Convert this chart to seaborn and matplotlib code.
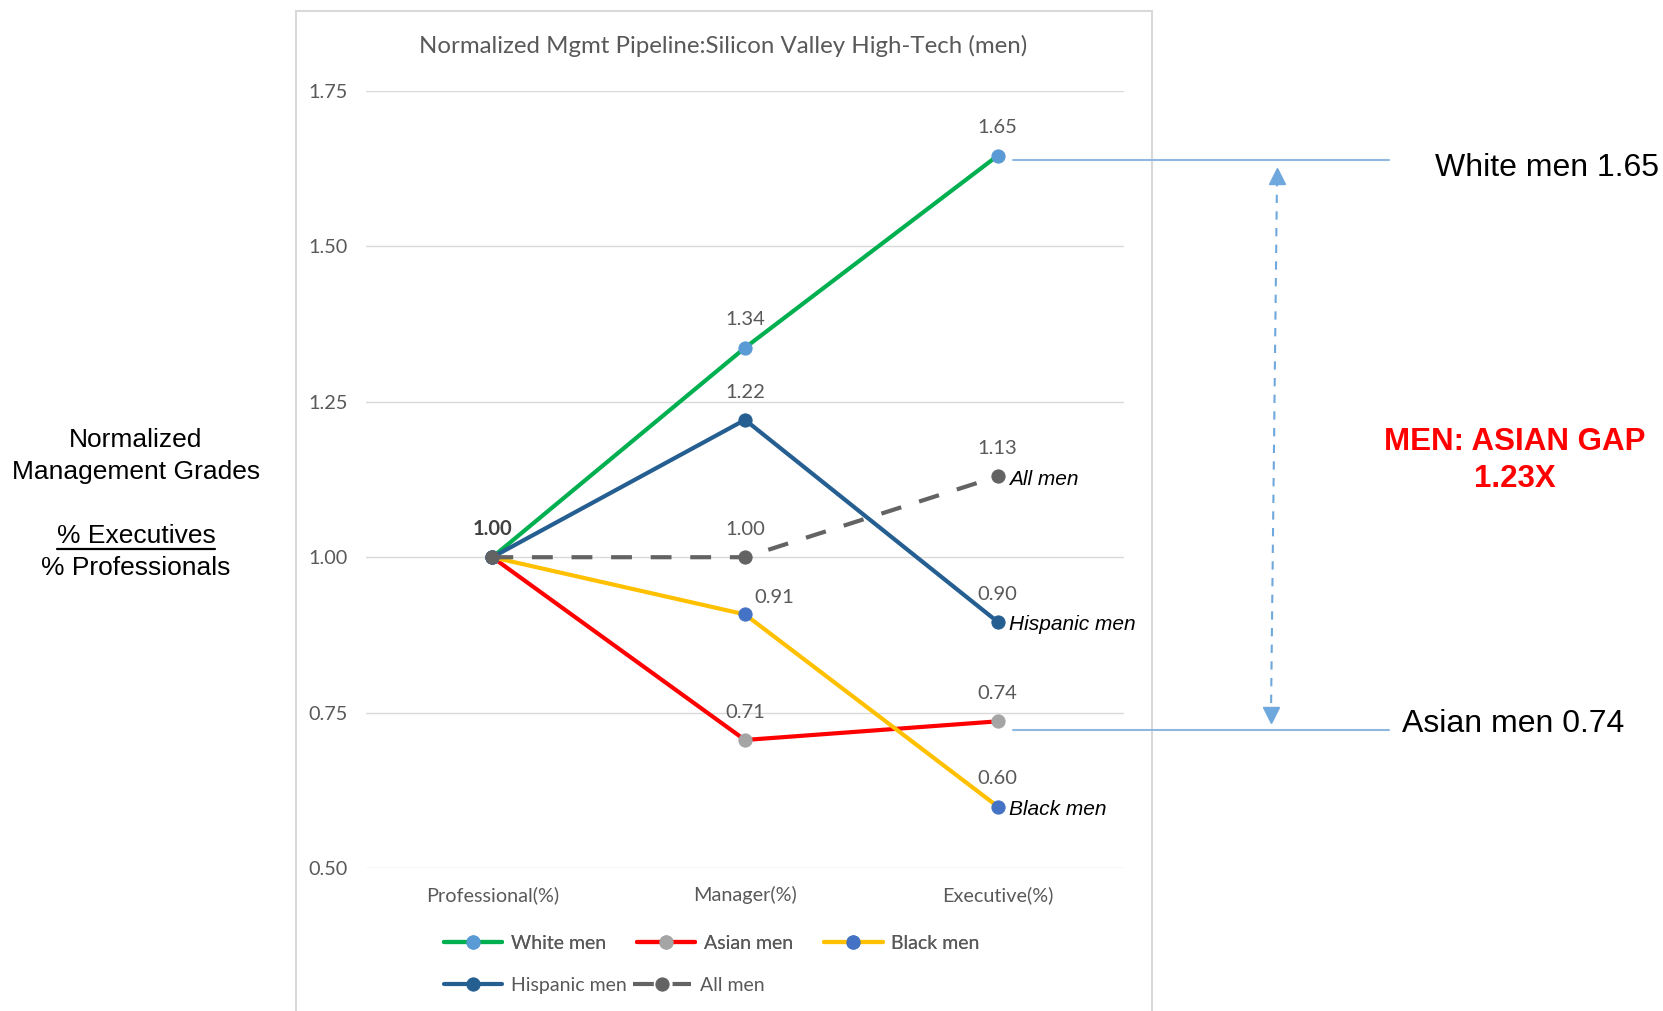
import pandas as pd
import seaborn as sns
import matplotlib.pyplot as plt
from matplotlib.lines import Line2D
from matplotlib.patches import Rectangle

# data
stages = ['Professional(%)', 'Manager(%)', 'Executive(%)']
white_men = [1.00, 1.337, 1.646]
asian_men = [1.00, 0.706, 0.736]
black_men = [1.00, 0.908, 0.599]
hispanic_men = [1.00, 1.221, 0.896]
all_men = [1.00, 1.00, 1.13]
y_ticks = [0.50, 0.75, 1.00, 1.25, 1.50, 1.75]

series = [
    ('White men', white_men, '#00B050', '#5B9BD5', '-'),
    ('Asian men', asian_men, '#FF0000', '#A5A5A5', '-'),
    ('Black men', black_men, '#FFC000', '#4472C4', '-'),
    ('Hispanic men', hispanic_men, '#255E91', '#255E91', '-'),
    ('All men', all_men, '#636363', '#636363', (0, (5, 4.5))),
]
end_labels = ['All men', 'Hispanic men', 'Black men']

sns.set_style('white')
plt.rcParams['font.family'] = ['Lato', 'DejaVu Sans']
grey = '#595959'

fig = plt.figure(figsize=(16.63, 10.11), dpi=100)
ax = fig.add_axes([0.2201, 0.1414, 0.4558, 0.7686])

# chart border like the excel chart area
fig.add_artist(Rectangle((0.178, -0.05), 0.5147, 1.039, transform=fig.transFigure,
                         fill=False, edgecolor='#D9D9D9', lw=1.5, zorder=0))

for name, vals, lc, mc, ls in series:
    df = pd.DataFrame({'stage': stages, 'value': vals})
    sns.lineplot(data=df, x='stage', y='value', ax=ax, color=lc, lw=3, linestyle=ls,
                 marker='o', markersize=9.5, markerfacecolor=mc, markeredgecolor=mc,
                 label=name, sort=False, zorder=3)
    # value labels
    for i, v in enumerate(vals):
        if i == 0:
            continue
        off = (0, 20)
        if name == 'Black men' and i == 1:
            off = (21, 12)
        ax.annotate(f'{v:.2f}', (i, v), xytext=off, textcoords='offset points',
                    ha='center', va='center', fontsize=14.5, color=grey)
    if name in end_labels:
        ax.annotate(name, (2, vals[2]), xytext=(8, -2), textcoords='offset points',
                    ha='left', va='center', fontsize=15, style='italic',
                    family='Liberation Sans', color='black')

ax.annotate('1.00', (0, 1.00), xytext=(0, 20), textcoords='offset points',
            ha='center', va='center', fontsize=14.5, color='#404040', fontweight='bold')

ax.set_xlim(-0.5, 2.5)
ax.set_ylim(0.5, 1.75)
ax.set_yticks(y_ticks)
ax.set_yticklabels([f'{t:.2f}' for t in y_ticks])
ax.grid(axis='y', color='#D9D9D9', lw=1)
ax.set_axisbelow(True)
ax.set_xlabel('')
ax.set_ylabel('')
for s in ax.spines.values():
    s.set_visible(False)
ax.tick_params(axis='both', length=0, labelsize=14.3, labelcolor=grey)
ax.tick_params(axis='y', pad=13)
ax.tick_params(axis='x', pad=13)

# excel legend flows left to right, so two single-row legends
handles, labels = ax.get_legend_handles_labels()
ax.get_legend().remove()
leg_kw = dict(loc='upper left', frameon=False, fontsize=14, labelcolor=grey,
              handlelength=3.0, handletextpad=0.44, borderpad=0, borderaxespad=0)
leg1 = fig.legend(handles[:3], labels[:3], ncol=3, bbox_to_anchor=(0.267, 0.075),
                  columnspacing=1.6, **leg_kw)
fig.legend(handles[3:], labels[3:], ncol=2, bbox_to_anchor=(0.267, 0.034),
           columnspacing=0.33, **leg_kw)
fig.add_artist(leg1)

fig.text(0.4348, 1 - 46 / 1011, 'Normalized Mgmt Pipeline:Silicon Valley High-Tech (men)',
         ha='center', va='center', fontsize=17.3, color=grey)

# left side text
arial = 'Liberation Sans'
cx = 136 / 1663
for txt, ypx in [('Normalized', 440), ('Management Grades', 472),
                 ('% Executives', 536), ('% Professionals', 568)]:
    t = fig.text(cx, 1 - ypx / 1011, txt, ha='center', va='center', fontsize=19,
                 family=arial, color='black')
    if txt == '% Executives':
        exec_text = t

fig.canvas.draw()
bb = exec_text.get_window_extent().transformed(fig.transFigure.inverted())
fig.add_artist(Line2D([bb.x0, bb.x1], [1 - 549 / 1011] * 2, transform=fig.transFigure,
                      color='black', lw=1.6))

# right side annotations
line_c = '#8DB8E0'
fig.add_artist(Line2D([1013 / 1663, 1389 / 1663], [1 - 160 / 1011] * 2,
                      transform=fig.transFigure, color=line_c, lw=1.5))
fig.add_artist(Line2D([1013 / 1663, 1389 / 1663], [1 - 730 / 1011] * 2,
                      transform=fig.transFigure, color=line_c, lw=1.5))
arr_c = '#6FA8DC'
fig.add_artist(Line2D([1277 / 1663, 1271 / 1663], [1 - 178 / 1011, 1 - 713 / 1011],
                      transform=fig.transFigure, color=arr_c, lw=1.5, ls=(0, (4, 4))))
fig.add_artist(Line2D([1277 / 1663], [1 - 176 / 1011], transform=fig.transFigure,
                      marker='^', markersize=11, color=arr_c, lw=0))
fig.add_artist(Line2D([1271 / 1663], [1 - 715 / 1011], transform=fig.transFigure,
                      marker='v', markersize=11, color=arr_c, lw=0))

fig.text(1435 / 1663, 1 - 168 / 1011, 'White men 1.65', ha='left', va='center',
         fontsize=23, family=arial, color='black')
fig.text(1402 / 1663, 1 - 724 / 1011, 'Asian men 0.74', ha='left', va='center',
         fontsize=23, family=arial, color='black')
fig.text(1515 / 1663, 1 - 442 / 1011, 'MEN: ASIAN GAP', ha='center', va='center',
         fontsize=22.5, family=arial, fontweight='bold', color='#FF0000')
fig.text(1515 / 1663, 1 - 479 / 1011, '1.23X', ha='center', va='center',
         fontsize=22.5, family=arial, fontweight='bold', color='#FF0000')

fig.savefig('out.png', dpi=100)
